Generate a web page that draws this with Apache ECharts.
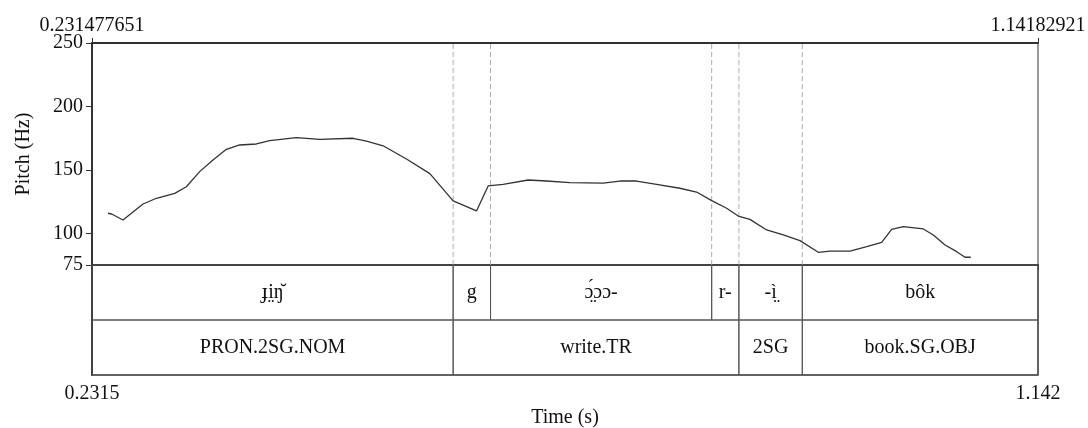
<!DOCTYPE html>
<html>
<head>
<meta charset="utf-8">
<script src="https://cdn.jsdelivr.net/npm/echarts@6/dist/echarts.min.js"></script>
<style>
  html, body { margin: 0; padding: 0; background: #fff; }
  #main { width: 1088px; height: 428px; }
</style>
</head>
<body>
<div id="main"></div>
<script>
var xMin = 0.231477651;
var xMax = 1.14182921;
var topLabels = ['0.231477651', '1.14182921'];
var bottomLabels = ['0.2315', '1.142'];
var yTicks = [75, 100, 150, 200, 250];

// pitch track: [time (s), Hz]
var pitch = [
  [0.2469, 115.8], [0.2504, 115.2], [0.2613, 110.5], [0.2806, 123.1],
  [0.2935, 127.6], [0.3111, 131.5], [0.3223, 136.7], [0.3351, 148.6],
  [0.3479, 157.8], [0.3608, 166.2], [0.3736, 169.6], [0.3897, 170.4],
  [0.4025, 173.0], [0.4282, 175.4], [0.4507, 174.1], [0.4827, 174.9],
  [0.4956, 172.7], [0.5116, 169.0], [0.5341, 158.6], [0.5566, 147.0],
  [0.5790, 125.5], [0.6015, 117.6], [0.6127, 137.3], [0.6271, 138.6],
  [0.6512, 142.0], [0.6689, 141.2], [0.6913, 139.9], [0.7234, 139.6],
  [0.7395, 141.2], [0.7555, 141.2], [0.7748, 138.6], [0.7972, 135.5],
  [0.8133, 132.5], [0.8278, 125.7], [0.8422, 119.7], [0.8534, 113.6],
  [0.8646, 111.0], [0.8807, 102.6], [0.8967, 98.7], [0.9128, 94.2],
  [0.9304, 85.0], [0.9416, 86.0], [0.9609, 86.0], [0.9770, 89.4],
  [0.9914, 92.9], [1.0010, 103.1], [1.0122, 105.2], [1.0315, 103.4],
  [1.0411, 98.7], [1.0524, 90.8], [1.0636, 85.5], [1.0716, 81.1],
  [1.0771, 81.1]
];

// tier 1 (segments)
var tier1Bounds = [xMin, 0.579, 0.615, 0.8278, 0.854, 0.915, xMax];
var tier1Labels = ['ɟi̤ŋ̆', 'g', 'ɔ̤́ɔɔ-', 'r-', '-ì̤', 'bôk'];
// tier 2 (glosses)
var tier2Bounds = [xMin, 0.579, 0.854, 0.915, xMax];
var tier2Labels = ['PRON.2SG.NOM', 'write.TR', '2SG', 'book.SG.OBJ'];

var font = '"Liberation Serif", "Times New Roman", serif';

function tierData(bounds, row) {
  var out = [];
  for (var i = 0; i < bounds.length - 1; i++) {
    out.push([bounds[i], bounds[i + 1], row]);
  }
  return out;
}

function makeRender(labels) {
  return function (params, api) {
    var p0 = api.coord([api.value(0), api.value(2)]);
    var p1 = api.coord([api.value(1), api.value(2) + 1]);
    return {
      type: 'group',
      children: [
        {
          type: 'rect',
          shape: { x: p0[0], y: p0[1], width: p1[0] - p0[0], height: p1[1] - p0[1] },
          style: { fill: 'none', stroke: '#555', lineWidth: 1 }
        },
        {
          type: 'text',
          style: {
            text: labels[params.dataIndex],
            x: (p0[0] + p1[0]) / 2,
            y: (p0[1] + p1[1]) / 2,
            align: 'center',
            verticalAlign: 'middle',
            font: '20px ' + font,
            fill: '#111'
          }
        }
      ]
    };
  };
}

// dashed boundary lines over the pitch panel
function renderDashed(params, api) {
  var a = api.coord([api.value(0), 75]);
  var b = api.coord([api.value(0), 250]);
  return {
    type: 'line',
    shape: { x1: a[0], y1: a[1], x2: b[0], y2: b[1] },
    style: { stroke: '#aaa', lineWidth: 1, lineDash: [5, 3] }
  };
}

var dashed = [];
for (var i = 1; i < tier1Bounds.length - 1; i++) {
  dashed.push([tier1Bounds[i]]);
}

var myChart = echarts.init(document.getElementById('main'));
var option = {
  animation: false,
  textStyle: { fontFamily: font },
  grid: [
    { left: 92, right: 50, top: 43, height: 222, outerBoundsMode: 'none', show: true, borderColor: '#333', borderWidth: 1, backgroundColor: 'transparent' },
    { left: 92, right: 50, top: 265, height: 110, outerBoundsMode: 'none', show: true, borderColor: '#444', borderWidth: 1.5, backgroundColor: 'transparent' }
  ],
  xAxis: [
    {
      type: 'value', gridIndex: 0, position: 'top', min: xMin, max: xMax,
      axisLine: { show: true, lineStyle: { color: '#111', width: 1.5 } },
      axisTick: { show: true, customValues: [xMin, xMax], length: 5, inside: false, lineStyle: { color: '#333' } },
      axisLabel: {
        customValues: [xMin, xMax], margin: 7, fontSize: 20, color: '#111', fontFamily: font,
        formatter: function (v) { return v === xMin ? topLabels[0] : topLabels[1]; }
      },
      splitLine: { show: false }
    },
    {
      type: 'value', gridIndex: 1, position: 'bottom', min: xMin, max: xMax,
      name: 'Time (s)', nameLocation: 'middle', nameGap: 33,
      nameTextStyle: { fontSize: 20, color: '#111', fontFamily: font },
      axisLine: { show: true, lineStyle: { color: '#333', width: 2 } },
      axisTick: { show: true, customValues: [xMin, xMax], length: 5, lineStyle: { color: '#333' } },
      axisLabel: {
        customValues: [xMin, xMax], margin: 9, fontSize: 20, color: '#111', fontFamily: font,
        formatter: function (v) { return v === xMin ? bottomLabels[0] : bottomLabels[1]; }
      },
      splitLine: { show: false }
    }
  ],
  yAxis: [
    {
      type: 'value', gridIndex: 0, min: 75, max: 250,
      name: 'Pitch (Hz)', nameLocation: 'middle', nameGap: 58, nameRotate: 90,
      nameTextStyle: { fontSize: 20, color: '#111', fontFamily: font },
      axisLine: { show: true, lineStyle: { color: '#333', width: 2 } },
      axisTick: { show: true, customValues: yTicks, length: 6, lineStyle: { color: '#333' } },
      axisLabel: { customValues: yTicks, margin: 9, fontSize: 20, color: '#111', fontFamily: font },
      splitLine: { show: false }
    },
    {
      type: 'value', gridIndex: 1, min: 0, max: 2, inverse: true,
      axisLine: { show: true, lineStyle: { color: '#333', width: 2 } },
      axisTick: { show: false },
      axisLabel: { show: false },
      splitLine: { show: false }
    }
  ],
  series: [
    {
      type: 'custom',
      xAxisIndex: 0, yAxisIndex: 0,
      renderItem: renderDashed,
      data: dashed,
      silent: true
    },
    {
      type: 'line',
      xAxisIndex: 0, yAxisIndex: 0,
      data: pitch,
      symbol: 'none',
      lineStyle: { color: '#333', width: 1.3 }
    },
    {
      type: 'custom',
      xAxisIndex: 1, yAxisIndex: 1,
      renderItem: makeRender(tier1Labels),
      data: tierData(tier1Bounds, 0)
    },
    {
      type: 'custom',
      xAxisIndex: 1, yAxisIndex: 1,
      renderItem: makeRender(tier2Labels),
      data: tierData(tier2Bounds, 1)
    }
  ]
};
myChart.setOption(option);
</script>
</body>
</html>
